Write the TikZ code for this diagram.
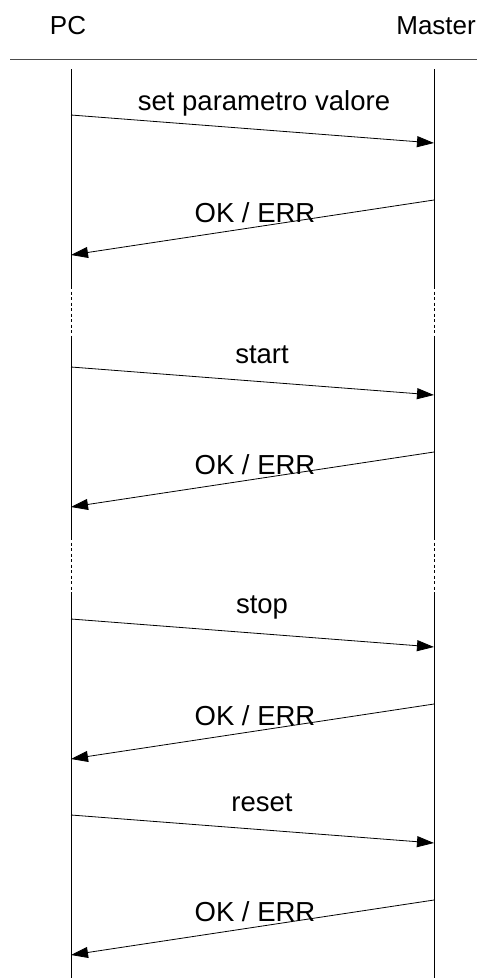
\documentclass[tikz,border=0pt]{standalone}
\usepackage{fontspec}
\setmainfont{Liberation Sans}
\usetikzlibrary{arrows.meta}

\begin{document}
\begin{tikzpicture}[x=1pt,y=-1pt,
        msg/.style={-{Triangle[length=17pt,width=11pt]},line width=0.8pt},
        lbl/.style={font=\fontsize{27.5}{30}\selectfont,inner sep=0pt},
        head/.style={font=\fontsize{26}{30}\selectfont,inner sep=0pt},
        life/.style={line width=0.9pt},
        gap/.style={line width=0.9pt,dash pattern=on 3pt off 2.5pt}]
        \useasboundingbox (0,0) rectangle (477,978);

        % header
        \node[head] (PC) at (68,26) {PC};
        \node[head,anchor=east] (Master) at (476,26) {Master};
        \coordinate (H1) at (10,59);
        \coordinate (H2) at (477,59);
        \draw[line width=0.8pt,black!70] (H1) -- (H2);

        % lifelines
        \coordinate (PA) at (71,69);
        \coordinate (PB) at (71,286);
        \coordinate (PC1) at (71,339);
        \coordinate (PD) at (71,537);
        \coordinate (PE) at (71,592);
        \coordinate (PF) at (71,978);
        \coordinate (MA) at (434,69);
        \coordinate (MB) at (434,286);
        \coordinate (MC) at (434,339);
        \coordinate (MD) at (434,537);
        \coordinate (ME) at (434,592);
        \coordinate (MF) at (434,978);

        \draw[life] (PA) -- (PB);
        \draw[gap]  (PB) -- (PC1);
        \draw[life] (PC1) -- (PD);
        \draw[gap]  (PD) -- (PE);
        \draw[life] (PE) -- (PF);
        \draw[life] (MA) -- (MB);
        \draw[gap]  (MB) -- (MC);
        \draw[life] (MC) -- (MD);
        \draw[gap]  (MD) -- (ME);
        \draw[life] (ME) -- (MF);

        % messages
        \coordinate (s1) at (71,115);  \coordinate (e1) at (434,143);
        \coordinate (s2) at (434,200); \coordinate (e2) at (71,255);
        \coordinate (s3) at (71,367);  \coordinate (e3) at (434,395);
        \coordinate (s4) at (434,452); \coordinate (e4) at (71,507);
        \coordinate (s5) at (71,619);  \coordinate (e5) at (434,647);
        \coordinate (s6) at (434,704); \coordinate (e6) at (71,759);
        \coordinate (s7) at (71,815);  \coordinate (e7) at (434,843);
        \coordinate (s8) at (434,900); \coordinate (e8) at (71,955);

        \draw[msg] (s1) -- (e1);
        \draw[msg] (s2) -- (e2);
        \draw[msg] (s3) -- (e3);
        \draw[msg] (s4) -- (e4);
        \draw[msg] (s5) -- (e5);
        \draw[msg] (s6) -- (e6);
        \draw[msg] (s7) -- (e7);
        \draw[msg] (s8) -- (e8);

        \node[lbl] (set)    at (264,103) {set parametro valore};
        \node[lbl] (ok1)    at (255,213) {OK / ERR};
        \node[lbl] (start)  at (262,355) {start};
        \node[lbl] (ok2)    at (255,465) {OK / ERR};
        \node[lbl] (stop)   at (262,607) {stop};
        \node[lbl] (ok3)    at (255,716) {OK / ERR};
        \node[lbl] (reset)  at (262,803) {reset};
        \node[lbl] (ok4)    at (255,912) {OK / ERR};
    \end{tikzpicture}
\end{document}
